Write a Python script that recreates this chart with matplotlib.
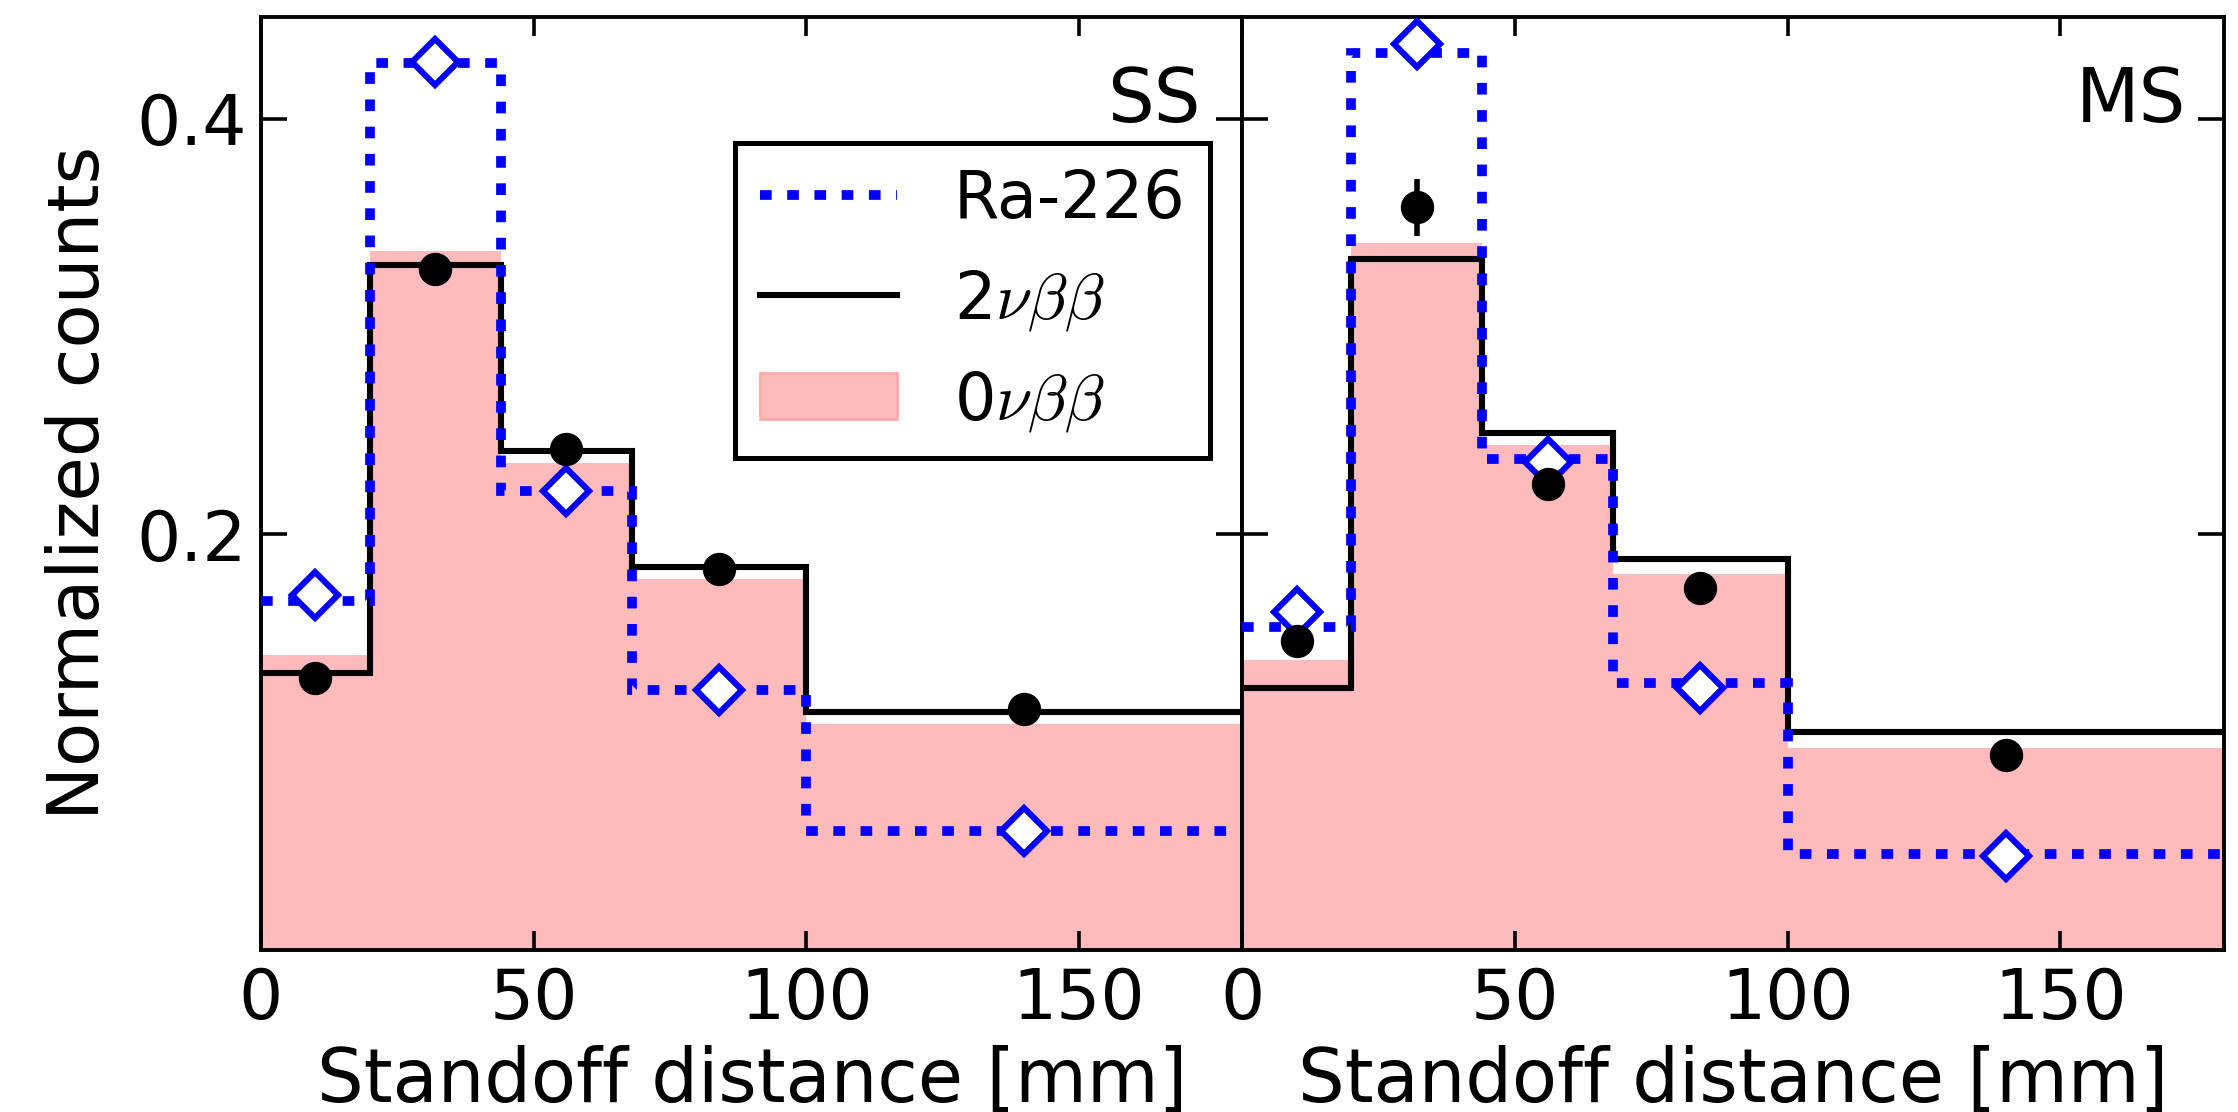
import numpy as np
import matplotlib
matplotlib.use("Agg")
import matplotlib.pyplot as plt
from matplotlib.lines import Line2D
from matplotlib.patches import Patch

# bin edges (mm) and bin centres used for the point markers
edges = [0, 20, 44, 68, 100, 180]
centers = [10, 32, 56, 84, 140]

# single-site (SS)
ss_ra = [0.168, 0.427, 0.221, 0.125, 0.057]
ss_ra_pts = [0.1705, 0.4275, 0.221, 0.1252, 0.057]
ss_2nu = [0.1334, 0.3294, 0.240, 0.1843, 0.1143]
ss_0nu = [0.142, 0.3363, 0.2345, 0.1783, 0.1088]
ss_data = [0.1307, 0.3277, 0.2412, 0.1834, 0.116]
ss_err = [0.003, 0.003, 0.003, 0.003, 0.003]

# multi-site (MS)
ms_ra = [0.1552, 0.4318, 0.2364, 0.1285, 0.046]
ms_ra_pts = [0.1625, 0.436, 0.235, 0.126, 0.045]
ms_2nu = [0.1261, 0.3323, 0.2485, 0.1883, 0.1046]
ms_0nu = [0.1394, 0.340, 0.2428, 0.1807, 0.097]
ms_data = [0.1488, 0.3573, 0.2244, 0.1743, 0.0939]
ms_err = [0.004, 0.0135, 0.004, 0.004, 0.003]

panels = [
    ("SS", ss_ra, ss_ra_pts, ss_2nu, ss_0nu, ss_data, ss_err, 0.957),
    ("MS", ms_ra, ms_ra_pts, ms_2nu, ms_0nu, ms_data, ms_err, 0.962),
]

plt.rcParams['font.family'] = 'DejaVu Sans'
plt.rcParams['mathtext.fontset'] = 'cm'

fig, axes = plt.subplots(1, 2, figsize=(11.19, 5.56), dpi=200, sharey=True)
fig.subplots_adjust(left=0.1166, right=0.9937, bottom=0.146, top=0.9847, wspace=0)

pink = '#ffbbbb'
blue = '#0000ff'
dots = (0, (1.2, 1.6))
for ax, (name, ra, ra_pts, two, zero, data, err, tx) in zip(axes, panels):
    ax.stairs(zero, edges, fill=True, color=pink, lw=0, zorder=1)
    ax.stairs(two, edges, baseline=None, color='black', lw=2.2, zorder=2)
    ax.stairs(ra, edges, baseline=None, color=blue, lw=3.5, ls=dots, zorder=3)
    ax.plot(centers, ra_pts, 'D', ms=11.5, mfc='white', mec=blue,
            mew=2.2, zorder=4)
    ax.errorbar(centers, data, yerr=err, fmt='o', color='black', ms=11,
                elinewidth=2, capsize=0, zorder=5)
    ax.text(tx, 0.887, name, transform=ax.transAxes, ha='right',
            va='baseline', fontsize=26.5)

    ax.set_xlim(0, 180)
    ax.set_ylim(0, 0.449)
    ax.set_xticks([0, 50, 100, 150])
    ax.set_yticks([0.2, 0.4])
    ax.tick_params(axis='both', which='major', direction='in', top=True,
                   right=True, labelsize=25, width=1.3)
    ax.tick_params(axis='y', length=9.5, pad=5)
    ax.tick_params(axis='x', length=7, pad=6)
    for sp in ax.spines.values():
        sp.set_linewidth(1.4)
    ax.set_xlabel('Standoff distance [mm]', fontsize=26.5, labelpad=4)

axes[0].set_ylabel('Normalized counts', fontsize=26, labelpad=8)
axes[1].tick_params(axis='y', labelleft=False)

handles = [
    Line2D([], [], color=blue, lw=3.5, ls=dots),
    Line2D([], [], color='black', lw=2.2),
    Patch(facecolor=pink, edgecolor='#ffaaaa', lw=1),
]
labels = ['Ra-226', r'2$\nu\beta\beta$', r'0$\nu\beta\beta$']
leg = axes[0].legend(handles, labels, loc='upper right',
                     bbox_to_anchor=(0.9674, 0.865), borderaxespad=0,
                     fontsize=23.5, fancybox=False, framealpha=1,
                     edgecolor='black', handlelength=2.1, handletextpad=0.87,
                     labelspacing=0.55, borderpad=0.38)
leg.get_frame().set_linewidth(1.8)

fig.savefig('out.png', dpi=200)
